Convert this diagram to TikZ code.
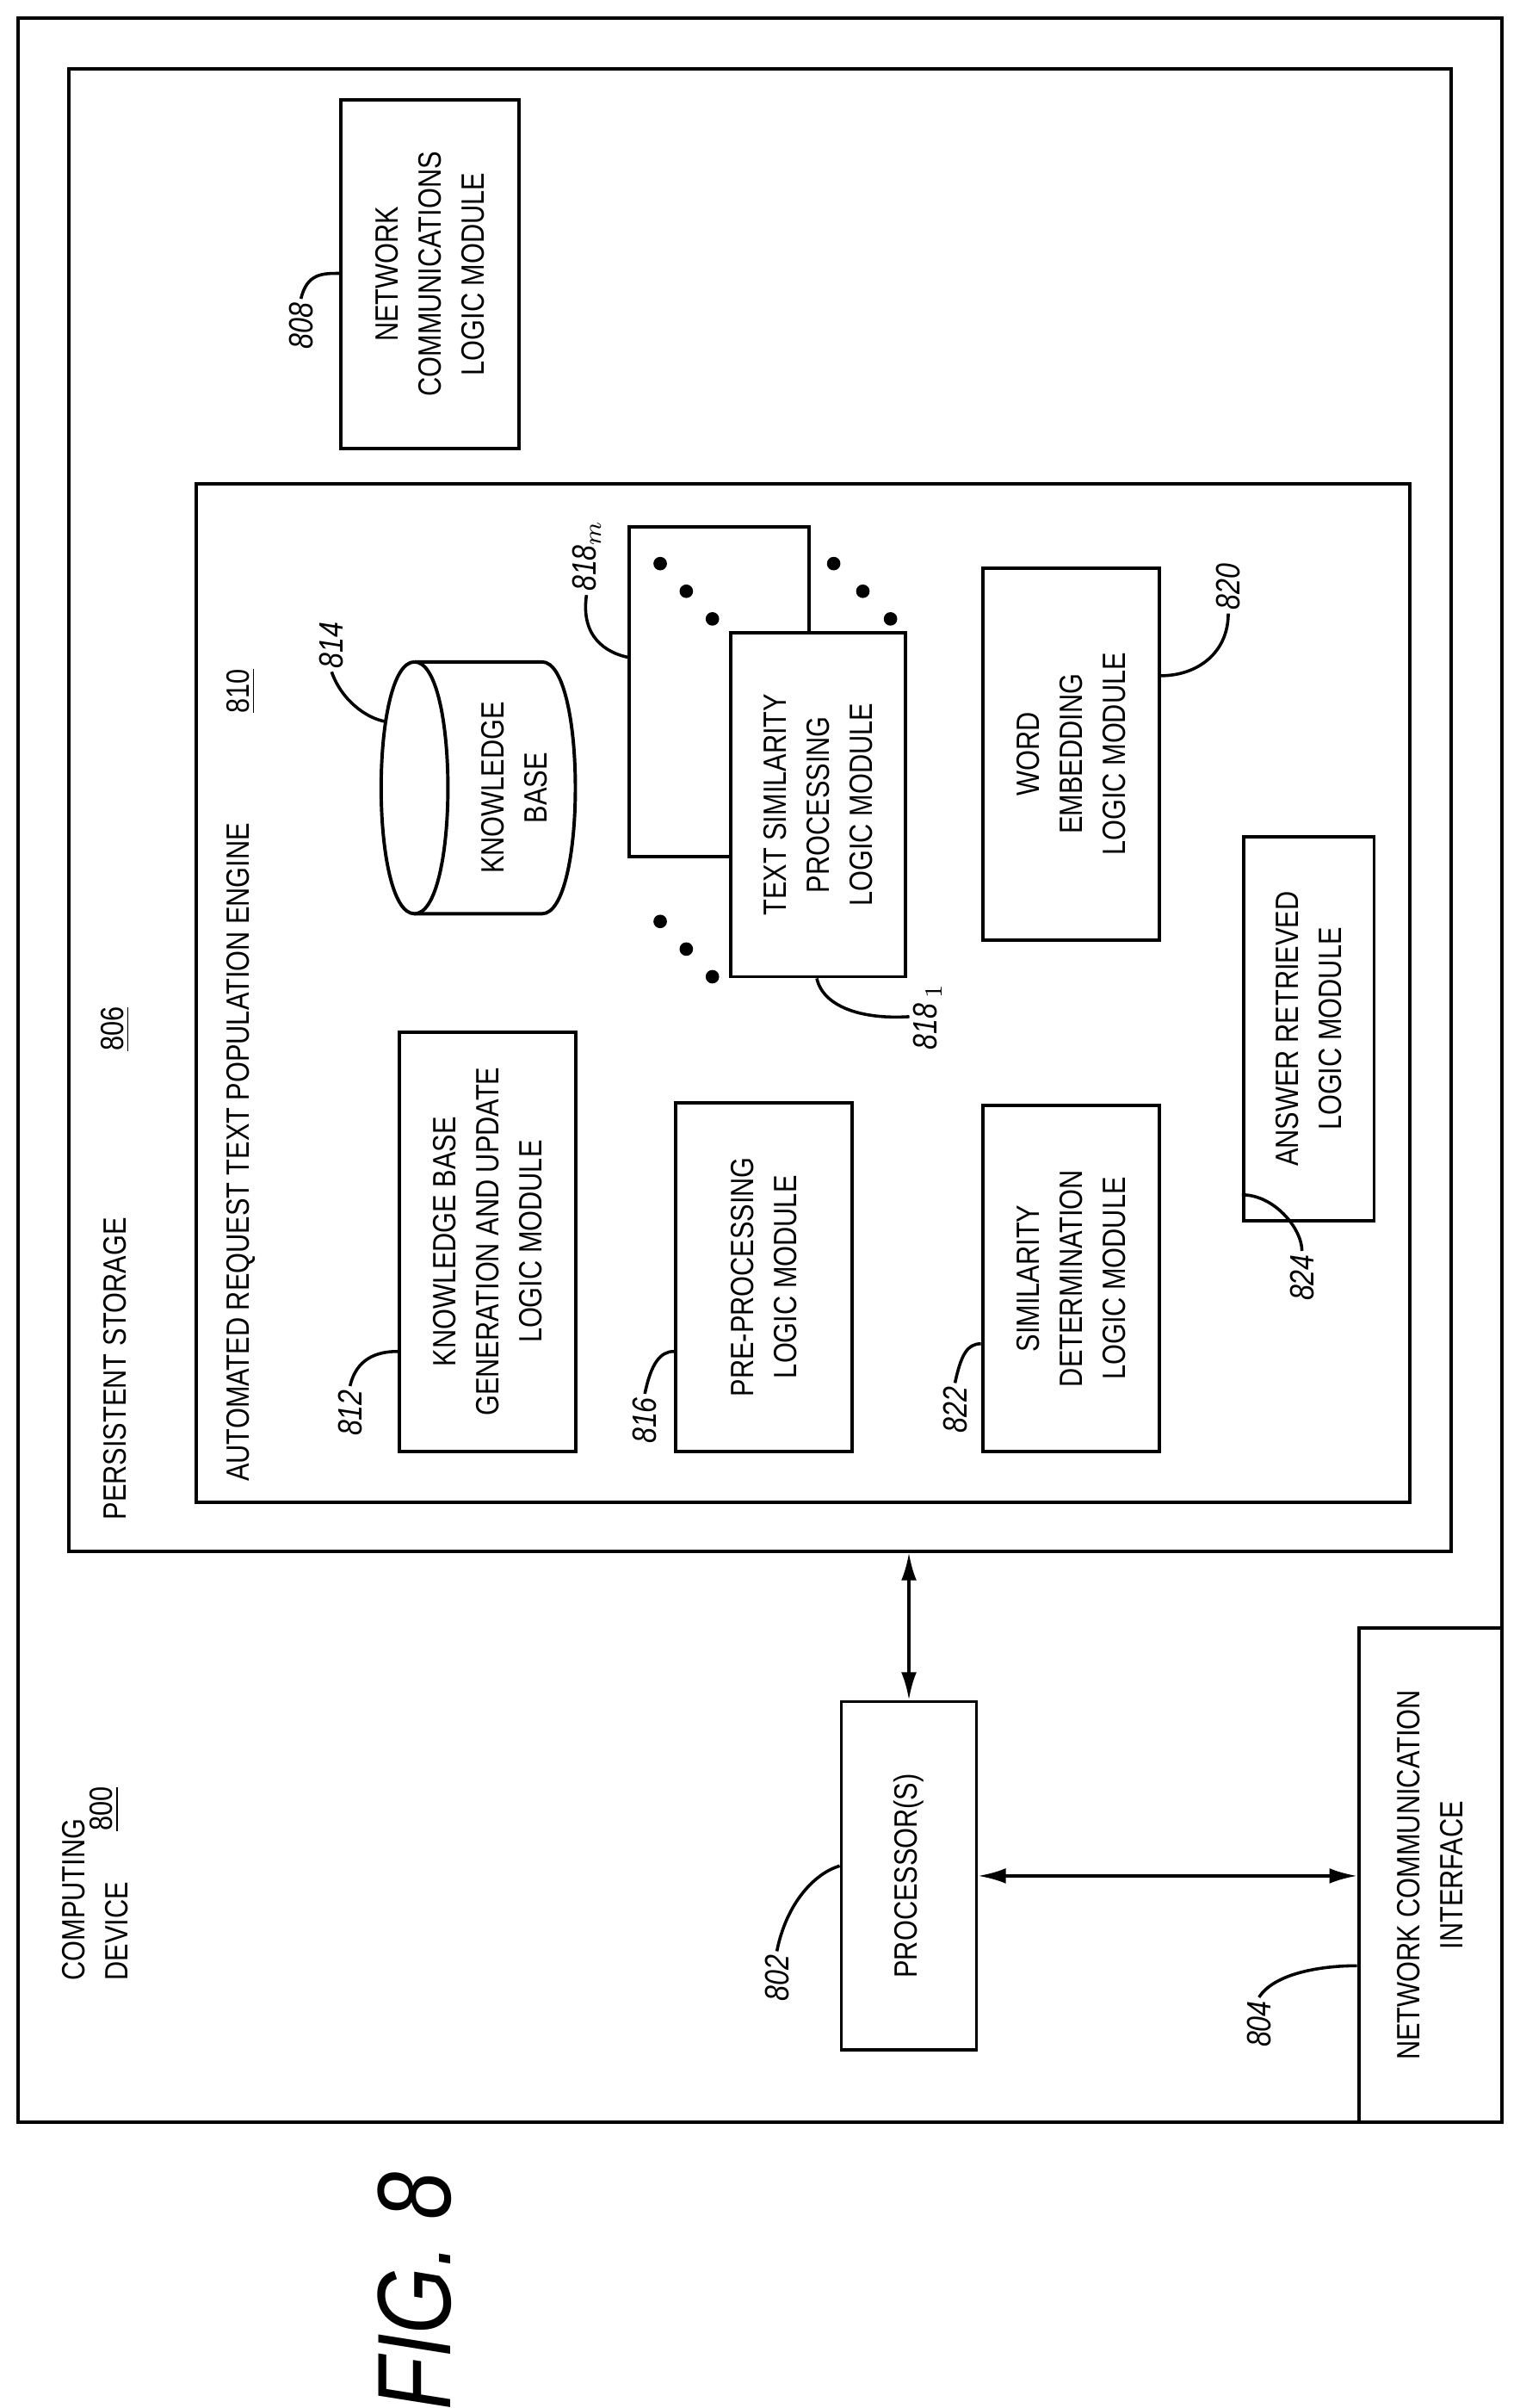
\documentclass[tikz,border=0pt]{standalone}
\usepackage{fontspec}
\setmainfont{Liberation Sans}[FakeStretch=0.82]
\usetikzlibrary{arrows.meta,calc}
\begin{document}
\begin{tikzpicture}[x=0.5pt,y=-0.5pt,
  frame/.style={draw,line width=1.1pt,inner sep=0pt},
  box/.style={draw,line width=1.1pt,rotate=90,align=center,inner sep=0pt,
    font=\fontsize{10.5}{14}\selectfont},
  lbl/.style={rotate=90,font=\fontsize{11}{12}\selectfont\itshape,inner sep=1pt},
  txt/.style={rotate=90,font=\fontsize{10.5}{14}\selectfont,inner sep=0pt,align=left},
  lead/.style={line width=1pt},
  arr/.style={line width=1pt,{Latex[length=9pt,width=5pt]}-{Latex[length=9pt,width=5pt]}}]
\useasboundingbox (0,0) rectangle (990,1568);
% frames
\node[frame,minimum width=483pt,minimum height=685pt] (outer) at (495,697) {};
\node[frame,minimum width=450pt,minimum height=482.5pt] (ps) at (495,527.5) {};
\node[frame,minimum width=395pt,minimum height=331.5pt] (eng) at (523,646.5) {};
% frame texts
\node[txt,anchor=north west] (t800) at (40,1290) {COMPUTING\\DEVICE};
\node[lbl,font=\fontsize{10.5}{14}\selectfont] (n800) at (68,1178) {\underline{800}};
\node[txt,anchor=west] (t806) at (75,990) {PERSISTENT STORAGE};
\node[lbl,font=\fontsize{10.5}{14}\selectfont] (n806) at (75,670) {\underline{806}};
\node[txt,anchor=west] (t810) at (157,965) {AUTOMATED REQUEST TEXT POPULATION ENGINE};
\node[lbl,font=\fontsize{10.5}{14}\selectfont] (n810) at (157,450) {\underline{810}};
% boxes
\node[box,minimum width=113.5pt,minimum height=58pt] (b808) at (280,178.5) {NETWORK\\COMMUNICATIONS\\LOGIC MODULE};
\node[box,minimum width=136.5pt,minimum height=57.5pt] (b812) at (317.5,808.5) {KNOWLEDGE BASE\\GENERATION AND UPDATE\\LOGIC MODULE};
\node[box,minimum width=113.5pt,minimum height=57.5pt] (b816) at (497.5,831.5) {PRE-PROCESSING\\LOGIC MODULE};
\node[box,minimum width=112.5pt,minimum height=57.5pt] (b822) at (697.5,832.5) {SIMILARITY\\DETERMINATION\\LOGIC MODULE};
\node[box,minimum width=125pt,minimum height=42.5pt] (b824) at (852.5,670) {ANSWER RETRIEVED\\LOGIC MODULE};
\node[box,minimum width=121pt,minimum height=57.5pt] (b820) at (697.5,491) {WORD\\EMBEDDING\\LOGIC MODULE};
\node[box,fill=white,minimum width=107.5pt,minimum height=58.5pt] (b818m) at (468.5,450.5) {};
\node[box,fill=white,minimum width=112pt,minimum height=57pt] (b818) at (533,524) {TEXT SIMILARITY\\PROCESSING\\LOGIC MODULE};
\node[box,minimum width=113.5pt,minimum height=44pt] (proc) at (592,1221.5) {PROCESSOR(S)};
\node[box,minimum width=161pt,minimum height=46.5pt] (nci) at (931.5,1221) {NETWORK COMMUNICATION\\INTERFACE};
% dots
\foreach \p in {(430,367),(447,385),(464,403),(543,367),(562,385),(580,403),(430,600),(447,618),(464,636)}
  \fill \p circle (2.2pt);
% cylinder
\draw[line width=1.1pt] (270,431) -- (353,431) .. controls (382,431) and (382,595) .. (353,595) -- (270,595);
\draw[line width=1.1pt] (270,431) .. controls (241,431) and (241,595) .. (270,595) .. controls (299,595) and (299,431) .. (270,431);
\node[txt,align=center] (kb) at (335,513) {KNOWLEDGE\\BASE};
\coordinate (kbleft) at (252,470);
% arrows
\draw[arr] (proc.east |- ps.south) -- (proc.east);
\draw[arr] (proc.south) -- (proc.south -| nci.north);
% labels and leaders
\node[lbl] (l808) at (196,212) {808};
\draw[lead] (l808.east) .. controls (200,178) and (210,178) .. (b808.north |- 0,178);
\node[lbl] (l814) at (216,420) {814};
\draw[lead] (l814.west) .. controls (222,455) and (238,468) .. (kbleft);
\node[lbl] (l812) at (228,920) {812};
\draw[lead] (l812.east) .. controls (232,885) and (245,880) .. (b812.north |- 0,880);
\node[lbl] (l816) at (420,925) {816};
\draw[lead] (l816.east) .. controls (424,888) and (430,880) .. (b816.north |- 0,880);
\node[lbl] (l822) at (622,918) {822};
\draw[lead] (l822.east) .. controls (626,882) and (630,875) .. (b822.north |- 0,875);
\node[lbl] (l824) at (848,832) {824};
\draw[lead] (l824.east) .. controls (848,800) and (830,778) .. (b824.north |- 0,778);
\node[lbl] (l820) at (800,382) {820};
\draw[lead] (l820.west) .. controls (800,425) and (780,440) .. (b820.south |- 0,440);
\node[lbl] (l818m) at (382,362) {818$_m$};
\draw[lead] (l818m.west) .. controls (378,415) and (395,425) .. (b818m.north |- 0,428);
\node[lbl] (l8181) at (604,662) {818\,$_1$};
\draw[lead] (b818.west -| 532,0) .. controls (536,655) and (560,664) .. (l8181.north);
\node[lbl] (l802) at (506,1288) {802};
\draw[lead] (l802.east) .. controls (512,1240) and (530,1220) .. (proc.north |- 0,1215);
\node[lbl] (l804) at (820,1318) {804};
\draw[lead] (l804.east) .. controls (830,1285) and (860,1280) .. (nci.north |- 0,1280);
% figure label
\node[rotate=90,font=\fontsize{34}{36}\selectfont\itshape] (fig) at (270,1492) {FIG. 8};
\end{tikzpicture}
\end{document}
